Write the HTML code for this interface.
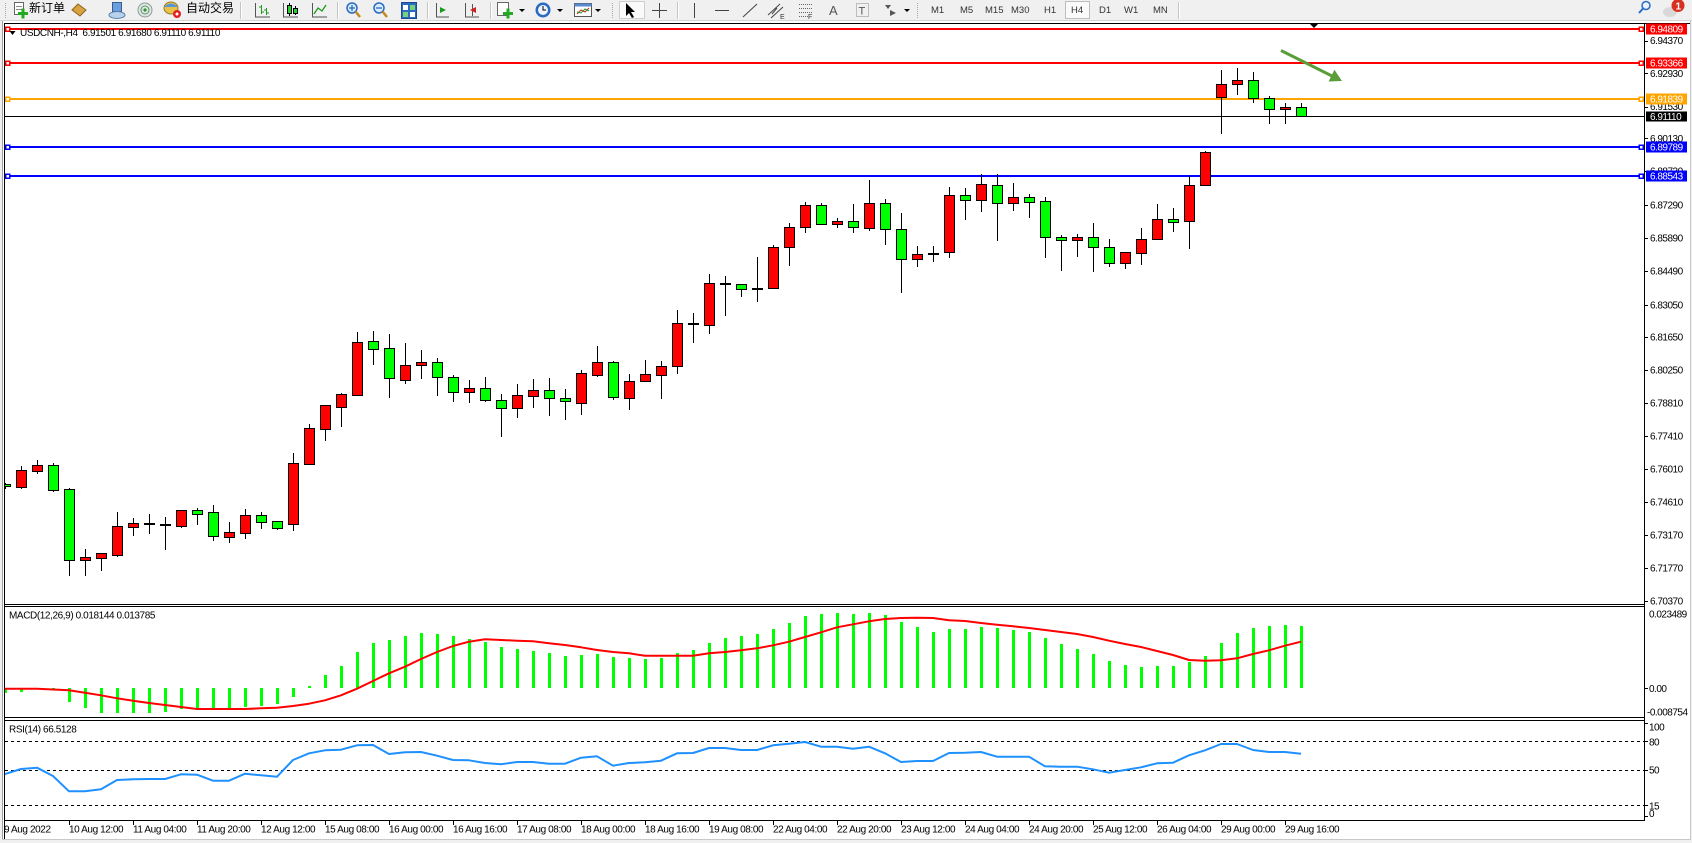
<!DOCTYPE html>
<html><head><meta charset="utf-8">
<style>
html,body{margin:0;padding:0;background:#f0f0f0;}
svg{display:block;}
.t{font-family:"Liberation Sans",sans-serif;font-size:10px;letter-spacing:-0.4px;fill:#000;}
.w{font-family:"Liberation Sans",sans-serif;font-size:10px;letter-spacing:-0.5px;fill:#fff;}
.p{font-family:"Liberation Sans",sans-serif;font-size:10px;letter-spacing:-0.5px;fill:#000;}
.tb{font-family:"Liberation Sans",sans-serif;font-size:9.5px;fill:#333;}
.cj{font-family:"Liberation Sans","Noto Sans CJK SC",sans-serif;font-size:12px;fill:#000;}
</style></head>
<body>
<svg width="1692" height="843" viewBox="0 0 1692 843" xmlns="http://www.w3.org/2000/svg">
<defs>
<clipPath id="cm"><rect x="5" y="25" width="1639" height="579"/></clipPath>
<clipPath id="cd"><rect x="5" y="607" width="1639" height="110"/></clipPath>
<clipPath id="cr"><rect x="5" y="721" width="1639" height="99"/></clipPath>
</defs>
<rect x="0" y="0" width="1692" height="843" fill="#f0f0f0"/>
<!-- toolbar -->
<rect x="0" y="0" width="1692" height="21" fill="#f0f0f0"/>
<line x1="0" y1="20.5" x2="1692" y2="20.5" stroke="#d4d4d4"/>
<g shape-rendering="crispEdges">
<line x1="5.5" y1="3" x2="5.5" y2="18" stroke="#a8a8a8" stroke-dasharray="1,1"/>
<line x1="612.5" y1="3" x2="612.5" y2="18" stroke="#a8a8a8" stroke-dasharray="1,1"/>
<line x1="917.5" y1="3" x2="917.5" y2="18" stroke="#a8a8a8" stroke-dasharray="1,1"/>
<line x1="240.5" y1="2" x2="240.5" y2="19" stroke="#c4c4c4"/><line x1="241.5" y1="2" x2="241.5" y2="19" stroke="#fff"/>
<line x1="337.5" y1="2" x2="337.5" y2="19" stroke="#c4c4c4"/><line x1="338.5" y1="2" x2="338.5" y2="19" stroke="#fff"/>
<line x1="427.5" y1="2" x2="427.5" y2="19" stroke="#c4c4c4"/><line x1="428.5" y1="2" x2="428.5" y2="19" stroke="#fff"/>
<line x1="490.5" y1="2" x2="490.5" y2="19" stroke="#c4c4c4"/><line x1="491.5" y1="2" x2="491.5" y2="19" stroke="#fff"/>
<line x1="677.5" y1="2" x2="677.5" y2="19" stroke="#c4c4c4"/><line x1="678.5" y1="2" x2="678.5" y2="19" stroke="#fff"/>
<line x1="1178.5" y1="2" x2="1178.5" y2="19" stroke="#c4c4c4"/><line x1="1179.5" y1="2" x2="1179.5" y2="19" stroke="#fff"/>
<rect x="619.5" y="1.5" width="25" height="17" fill="#fafafa" stroke="#cfcfcf"/>
<rect x="1065.5" y="1.5" width="24" height="17" fill="#fafafa" stroke="#bdbdbd"/>
</g>
<!-- new order icon -->
<rect x="14.5" y="2.5" width="9" height="12" fill="#fff" stroke="#666"/>
<line x1="16" y1="6.5" x2="22" y2="6.5" stroke="#888"/><line x1="16" y1="9.5" x2="22" y2="9.5" stroke="#888"/>
<rect x="18" y="12" width="10" height="3" fill="#22aa22"/><rect x="21.5" y="8.5" width="3" height="10" fill="#22aa22"/>
<text x="29" y="12" class="cj">新订单</text>
<polygon points="72,10 78,4 86,10 80,16" fill="#d8a440" stroke="#8a6020"/>
<rect x="112.5" y="2.5" width="9" height="9" fill="#6b9edc" stroke="#35608e"/>
<ellipse cx="117" cy="15" rx="8" ry="3.5" fill="#b8d2ee" stroke="#5a7ea8"/>
<circle cx="145" cy="10" r="7" fill="#dfe6e6" stroke="#8a9a9a"/>
<circle cx="145" cy="10" r="4" fill="none" stroke="#5a9a5a"/>
<circle cx="145" cy="10" r="1.6" fill="#3a8a3a"/>
<ellipse cx="171" cy="8" rx="7" ry="6" fill="#e8c24a" stroke="#9a7a20"/>
<path d="M164,7 Q171,0 178,7 Z" fill="#5a96d6"/>
<circle cx="177" cy="14" r="4" fill="#e02020"/><circle cx="177" cy="14" r="1.5" fill="#fff"/>
<text x="186" y="12" class="cj">自动交易</text>
<!-- chart type icons -->
<path d="M255.5,3V17H270" fill="none" stroke="#555"/>
<path d="M261.5,5V14M259,7H261.5M261.5,12H264M266.5,8V15M264,10H266.5M266.5,13H269" fill="none" stroke="#1a9a1a"/>
<path d="M283.5,3V17H298" fill="none" stroke="#555"/>
<path d="M289.5,3V16M295.5,6V15" stroke="#000"/>
<rect x="287.5" y="5.5" width="4" height="8" fill="#2ad02a" stroke="#000"/>
<rect x="293.5" y="8.5" width="4" height="5" fill="#2ad02a" stroke="#000"/>
<path d="M312.5,3V17H327" fill="none" stroke="#555"/>
<polyline points="314,14 318,8 322,11 326,5" fill="none" stroke="#1a9a1a" stroke-width="1.3"/>
<circle cx="352" cy="8" r="5" fill="#d8ecff" stroke="#2a6ac0" stroke-width="1.5"/>
<line x1="355.5" y1="11.5" x2="360" y2="17" stroke="#c08a20" stroke-width="2.5"/>
<path d="M349,8H355M352,5V11" stroke="#2a6ac0" stroke-width="1.3"/>
<circle cx="379" cy="8" r="5" fill="#d8ecff" stroke="#2a6ac0" stroke-width="1.5"/>
<line x1="382.5" y1="11.5" x2="387" y2="17" stroke="#c08a20" stroke-width="2.5"/>
<path d="M376,8H382" stroke="#2a6ac0" stroke-width="1.3"/>
<rect x="401.5" y="2.5" width="15" height="16" fill="#2a6ac0" stroke="#1a4a90"/>
<rect x="403" y="5" width="5" height="5" fill="#fff"/><rect x="410" y="5" width="5" height="5" fill="#7ad07a"/>
<rect x="403" y="12" width="5" height="5" fill="#7ad07a"/><rect x="410" y="12" width="5" height="5" fill="#fff"/>
<path d="M436.5,3V17H449" fill="none" stroke="#555"/>
<polygon points="440,7 446,10 440,13" fill="#1a9a1a"/>
<path d="M465.5,3V17H479" fill="none" stroke="#555"/>
<path d="M472.5,4V16" stroke="#555"/>
<polygon points="470,10 476,7 476,13" fill="#d02020"/>
<rect x="497.5" y="2.5" width="11" height="13" fill="#fff" stroke="#666"/>
<rect x="503" y="12" width="10" height="3" fill="#22aa22"/><rect x="506.5" y="8.5" width="3" height="10" fill="#22aa22"/>
<polygon points="519,9 525,9 522,12" fill="#000"/>
<circle cx="543" cy="10" r="7.5" fill="#2a6ac0"/><circle cx="543" cy="10" r="5" fill="#eef4ff"/>
<path d="M543,6V10H546" fill="none" stroke="#000"/>
<polygon points="557,9 563,9 560,12" fill="#000"/>
<rect x="574.5" y="3.5" width="17" height="13" fill="#fff" stroke="#555"/>
<rect x="574.5" y="3.5" width="17" height="3" fill="#5a8ad0"/>
<polyline points="577,14 581,10 585,12 589,8" fill="none" stroke="#d02020"/>
<polyline points="577,12 581,13 585,9 589,11" fill="none" stroke="#1a9a1a"/>
<polygon points="595,9 601,9 598,12" fill="#000"/>
<!-- drawing tools -->
<polygon points="626,3 626,16 629,13 632,18 634,17 631,12 635,12" fill="#000"/>
<path d="M659.5,3V18M652,10.5H667" stroke="#444"/>
<path d="M694.5,3V18" stroke="#444"/>
<path d="M715,10.5H729" stroke="#444"/>
<path d="M743,17L757,4" stroke="#444"/>
<path d="M768,15L780,4M771,18L783,7M772,14L777,8" stroke="#444"/>
<text x="780" y="19" class="tb" style="font-size:7px">E</text>
<path d="M799,4.5H812M799,8.5H812M799,12.5H812M799,16.5H808" stroke="#666" stroke-dasharray="1,1"/>
<text x="808" y="19" class="tb" style="font-size:7px">F</text>
<text x="829" y="15" class="tb" style="font-size:13px;fill:#555">A</text>
<rect x="856.5" y="3.5" width="12" height="13" fill="none" stroke="#888" stroke-dasharray="1,1"/>
<text x="858.5" y="14.5" class="tb" style="font-size:11px;fill:#555">T</text>
<path d="M885,5L891,5L888,9Z" fill="#555"/><path d="M890,10L896,13L890,16Z" fill="#555"/>
<polygon points="904,9 910,9 907,12" fill="#000"/>
<text x="931" y="13" class="tb">M1</text>
<text x="960" y="13" class="tb">M5</text>
<text x="985" y="13" class="tb">M15</text>
<text x="1011" y="13" class="tb">M30</text>
<text x="1044" y="13" class="tb">H1</text>
<text x="1071" y="13" class="tb">H4</text>
<text x="1099" y="13" class="tb">D1</text>
<text x="1124" y="13" class="tb">W1</text>
<text x="1153" y="13" class="tb">MN</text>
<!-- right top icons -->
<circle cx="1646" cy="5.5" r="4" fill="#e8f2ff" stroke="#2a6ac0" stroke-width="1.5"/>
<line x1="1643" y1="8.5" x2="1639" y2="13" stroke="#2a6ac0" stroke-width="2"/>
<ellipse cx="1670" cy="12" rx="7" ry="5" fill="#d8d8d8"/>
<circle cx="1678" cy="5.5" r="6.5" fill="#d83020"/>
<text x="1675.5" y="9.5" style="font-family:'Liberation Sans',sans-serif;font-size:10px;font-weight:bold;fill:#fff">1</text>

<!-- chart window -->
<rect x="3" y="21" width="1687" height="818" fill="#fff"/>
<g shape-rendering="crispEdges">
<line x1="2.5" y1="21" x2="2.5" y2="840" stroke="#a0a0a0"/>
<line x1="1690.5" y1="21" x2="1690.5" y2="840" stroke="#c8c8c8"/>
<line x1="2" y1="839.5" x2="1691" y2="839.5" stroke="#c8c8c8"/>
<line x1="4" y1="23.5" x2="1690" y2="23.5" stroke="#000"/>
<line x1="4.5" y1="23" x2="4.5" y2="839" stroke="#000"/>
<line x1="1644.5" y1="23" x2="1644.5" y2="821" stroke="#000"/>
<line x1="4" y1="604.5" x2="1645" y2="604.5" stroke="#000"/>
<line x1="4" y1="606.5" x2="1645" y2="606.5" stroke="#000"/>
<line x1="4" y1="717.5" x2="1645" y2="717.5" stroke="#000"/>
<line x1="4" y1="720.5" x2="1645" y2="720.5" stroke="#000"/>
<line x1="4" y1="820.5" x2="1645" y2="820.5" stroke="#000"/>
</g>

<!-- main pane -->
<g clip-path="url(#cm)" shape-rendering="crispEdges">
<line x1="5" y1="116.5" x2="1644" y2="116.5" stroke="#000"/>
<line x1="5" y1="29" x2="1644" y2="29" stroke="#ff0000" stroke-width="2"/>
<line x1="5" y1="63" x2="1644" y2="63" stroke="#ff0000" stroke-width="2"/>
<line x1="5" y1="99" x2="1644" y2="99" stroke="#ffa500" stroke-width="2"/>
<line x1="5" y1="147" x2="1644" y2="147" stroke="#0000ff" stroke-width="2"/>
<line x1="5" y1="176" x2="1644" y2="176" stroke="#0000ff" stroke-width="2"/>
<path fill="none" stroke="#000" d="M5.5 483V489M21.5 466V489M37.5 460V474M53.5 463V492M69.5 488V576M85.5 549V576M101.5 553V571M117.5 512V557M133.5 518V536M149.5 514V534M165.5 517V550M181.5 510V528M197.5 508V525M213.5 505V541M229.5 522V543M245.5 509V539M261.5 512V529M277.5 521V530M293.5 453V531M309.5 424V465M325.5 405V441M341.5 393V427M357.5 332V396M373.5 331V365M389.5 334V398M405.5 343V384M421.5 350V379M437.5 358V396M453.5 375V402M469.5 380V403M485.5 377V402M501.5 394V437M517.5 384V418M533.5 379V408M549.5 378V416M565.5 389V420M581.5 370V415M597.5 346V377M613.5 361V400M629.5 374V410M645.5 360V382M661.5 361V399M677.5 310V374M693.5 313V343M709.5 274V334M725.5 276V316M741.5 284V297M757.5 257V302M773.5 245V289M789.5 223V266M805.5 202V233M821.5 203V225M837.5 218V228M853.5 204V233M869.5 180V231M885.5 199V245M901.5 213V293M917.5 246V267M933.5 246V262M949.5 187V258M965.5 188V220M981.5 174V212M997.5 174V241M1013.5 183V211M1029.5 194V218M1045.5 197V258M1061.5 235V271M1077.5 234V257M1093.5 223V272M1109.5 239V267M1125.5 252V269M1141.5 228V265M1157.5 204V240M1173.5 208V232M1189.5 176V249M1205.5 151V186M1221.5 70V134M1237.5 68V95M1253.5 72V103M1269.5 96V124M1285.5 103V124M1301.5 103V117"/>
<path fill="#ff0000" stroke="#000" d="M16.5,470.5h10v17h-10zM32.5,465.5h10v6h-10zM80.5,557.5h10v3h-10zM96.5,553.5h10v5h-10zM112.5,526.5h10v29h-10zM128.5,523.5h10v4h-10zM176.5,510.5h10v16h-10zM224.5,532.5h10v5h-10zM240.5,515.5h10v18h-10zM288.5,463.5h10v61h-10zM304.5,428.5h10v36h-10zM320.5,405.5h10v24h-10zM336.5,394.5h10v13h-10zM352.5,342.5h10v53h-10zM400.5,365.5h10v15h-10zM416.5,362.5h10v3h-10zM464.5,388.5h10v4h-10zM512.5,395.5h10v13h-10zM528.5,390.5h10v6h-10zM576.5,373.5h10v30h-10zM592.5,362.5h10v13h-10zM624.5,381.5h10v17h-10zM640.5,374.5h10v7h-10zM656.5,366.5h10v9h-10zM672.5,323.5h10v43h-10zM704.5,283.5h10v42h-10zM768.5,247.5h10v41h-10zM784.5,227.5h10v20h-10zM800.5,205.5h10v22h-10zM832.5,221.5h10v3h-10zM864.5,203.5h10v25h-10zM912.5,254.5h10v5h-10zM944.5,195.5h10v57h-10zM976.5,184.5h10v16h-10zM1008.5,197.5h10v6h-10zM1072.5,237.5h10v3h-10zM1120.5,252.5h10v11h-10zM1136.5,239.5h10v14h-10zM1152.5,219.5h10v20h-10zM1184.5,185.5h10v36h-10zM1200.5,152.5h10v33h-10zM1216.5,84.5h10v13h-10zM1232.5,80.5h10v4h-10zM1280.5,107.5h10v2h-10z"/>
<path fill="#00ff00" stroke="#000" d="M0.5,484.5h10v2h-10zM48.5,465.5h10v25h-10zM64.5,489.5h10v71h-10zM192.5,510.5h10v4h-10zM208.5,512.5h10v24h-10zM256.5,515.5h10v7h-10zM272.5,521.5h10v7h-10zM368.5,341.5h10v8h-10zM384.5,348.5h10v30h-10zM432.5,362.5h10v15h-10zM448.5,377.5h10v15h-10zM480.5,388.5h10v12h-10zM496.5,400.5h10v8h-10zM544.5,390.5h10v8h-10zM560.5,398.5h10v3h-10zM608.5,362.5h10v35h-10zM736.5,284.5h10v5h-10zM816.5,205.5h10v19h-10zM848.5,221.5h10v6h-10zM880.5,203.5h10v26h-10zM896.5,229.5h10v30h-10zM960.5,195.5h10v5h-10zM992.5,185.5h10v18h-10zM1024.5,197.5h10v5h-10zM1040.5,201.5h10v36h-10zM1056.5,237.5h10v3h-10zM1088.5,237.5h10v10h-10zM1104.5,247.5h10v16h-10zM1168.5,219.5h10v3h-10zM1248.5,80.5h10v18h-10zM1264.5,98.5h10v11h-10zM1296.5,107.5h10v9h-10z"/>
<path fill="#000" stroke="#000" d="M144.5,523.5h10v1h-10zM160.5,524.5h10v1h-10zM688.5,323.5h10v1h-10zM720.5,283.5h10v1h-10zM752.5,288.5h10v1h-10zM928.5,253.5h10v1h-10z"/>
<!-- markers -->
<g fill="#fff" stroke-width="1.5">
<rect x="5.5" y="27" width="4" height="4" stroke="#ff0000"/>
<rect x="5.5" y="61" width="4" height="4" stroke="#ff0000"/>
<rect x="5.5" y="97" width="4" height="4" stroke="#ffa500"/>
<rect x="5.5" y="145" width="4" height="4" stroke="#0000ff"/>
<rect x="5.5" y="174" width="4" height="4" stroke="#0000ff"/>
<rect x="1639" y="27" width="4" height="4" stroke="#ff0000"/>
<rect x="1639" y="61" width="4" height="4" stroke="#ff0000"/>
<rect x="1639" y="97" width="4" height="4" stroke="#ffa500"/>
<rect x="1639" y="145" width="4" height="4" stroke="#0000ff"/>
<rect x="1639" y="174" width="4" height="4" stroke="#0000ff"/>
</g>
</g>
<!-- title -->
<polygon points="9.5,31 15.5,31 12.5,35" fill="#000"/>
<text x="20" y="36" class="t" xml:space="preserve">USDCNH-,H4  6.91501 6.91680 6.91110 6.91110</text>
<!-- chart shift marker -->
<polygon points="1310,24 1318,24 1314,28" fill="#000"/>
<!-- green arrow -->
<line x1="1281" y1="50.5" x2="1333" y2="76.5" stroke="#5a9e3a" stroke-width="3"/>
<polygon points="1342,81 1328.6,81.5 1334.4,69.8" fill="#5a9e3a"/>

<!-- price axis -->
<g shape-rendering="crispEdges" stroke="#000">
<path d="M1645 41.5h3M1645 73.5h3M1645 107.5h3M1645 138.5h3M1645 171.5h3M1645 205.5h3M1645 238.5h3M1645 271.5h3M1645 305.5h3M1645 337.5h3M1645 370.5h3M1645 403.5h3M1645 436.5h3M1645 469.5h3M1645 502.5h3M1645 535.5h3M1645 568.5h3M1645 601.5h3"/>
</g>
<text x="1650" y="44.2" class="p">6.94370</text>
<text x="1650" y="76.8" class="p">6.92930</text>
<text x="1650" y="110.2" class="p">6.91530</text>
<text x="1650" y="141.8" class="p">6.90130</text>
<text x="1650" y="174.5" class="p">6.88730</text>
<text x="1650" y="208.5" class="p">6.87290</text>
<text x="1650" y="241.5" class="p">6.85890</text>
<text x="1650" y="274.5" class="p">6.84490</text>
<text x="1650" y="308.5" class="p">6.83050</text>
<text x="1650" y="340.5" class="p">6.81650</text>
<text x="1650" y="373.5" class="p">6.80250</text>
<text x="1650" y="406.5" class="p">6.78810</text>
<text x="1650" y="439.5" class="p">6.77410</text>
<text x="1650" y="472.5" class="p">6.76010</text>
<text x="1650" y="505.5" class="p">6.74610</text>
<text x="1650" y="538.5" class="p">6.73170</text>
<text x="1650" y="571.5" class="p">6.71770</text>
<text x="1650" y="604.5" class="p">6.70370</text>
<g shape-rendering="crispEdges">
<rect x="1646" y="23.5" width="41" height="11" fill="#ff0000"/>
<rect x="1646" y="57.5" width="41" height="11" fill="#ff0000"/>
<rect x="1646" y="93.5" width="41" height="11" fill="#ffa500"/>
<rect x="1646" y="111.5" width="41" height="10" fill="#000"/>
<rect x="1646" y="141.5" width="41" height="11" fill="#0000ff"/>
<rect x="1646" y="170.5" width="41" height="11" fill="#0000ff"/>
</g>
<text x="1650" y="32.5" class="w">6.94809</text>
<text x="1650" y="66.5" class="w">6.93366</text>
<text x="1650" y="102.5" class="w">6.91839</text>
<text x="1650" y="120" class="w">6.91110</text>
<text x="1650" y="150.5" class="w">6.89789</text>
<text x="1650" y="179.5" class="w">6.88543</text>

<!-- MACD pane -->
<g clip-path="url(#cd)">
<path fill="#00ff00" shape-rendering="crispEdges" d="M4,688h3V693h-3zM20,688h3V692h-3zM36,688h3V689h-3zM52,688h3V690h-3zM68,688h3V702h-3zM84,688h3V708h-3zM100,688h3V713h-3zM116,688h3V713h-3zM132,688h3V713h-3zM148,688h3V713h-3zM164,688h3V712h-3zM180,688h3V709h-3zM196,688h3V709h-3zM212,688h3V709h-3zM228,688h3V709h-3zM244,688h3V707h-3zM260,688h3V706h-3zM276,688h3V704h-3zM292,688h3V697h-3zM308,686h3V688h-3zM324,675h3V688h-3zM340,666h3V688h-3zM356,652h3V688h-3zM372,643h3V688h-3zM388,640h3V688h-3zM404,636h3V688h-3zM420,633h3V688h-3zM436,634h3V688h-3zM452,636h3V688h-3zM468,639h3V688h-3zM484,642h3V688h-3zM500,647h3V688h-3zM516,649h3V688h-3zM532,651h3V688h-3zM548,653h3V688h-3zM564,656h3V688h-3zM580,655h3V688h-3zM596,654h3V688h-3zM612,657h3V688h-3zM628,658h3V688h-3zM644,659h3V688h-3zM660,658h3V688h-3zM676,653h3V688h-3zM692,650h3V688h-3zM708,643h3V688h-3zM724,638h3V688h-3zM740,636h3V688h-3zM756,634h3V688h-3zM772,629h3V688h-3zM788,623h3V688h-3zM804,616h3V688h-3zM820,614h3V688h-3zM836,613h3V688h-3zM852,614h3V688h-3zM868,613h3V688h-3zM884,615h3V688h-3zM900,622h3V688h-3zM916,627h3V688h-3zM932,632h3V688h-3zM948,629h3V688h-3zM964,629h3V688h-3zM980,627h3V688h-3zM996,628h3V688h-3zM1012,630h3V688h-3zM1028,632h3V688h-3zM1044,638h3V688h-3zM1060,644h3V688h-3zM1076,649h3V688h-3zM1092,654h3V688h-3zM1108,661h3V688h-3zM1124,665h3V688h-3zM1140,667h3V688h-3zM1156,666h3V688h-3zM1172,666h3V688h-3zM1188,662h3V688h-3zM1204,656h3V688h-3zM1220,643h3V688h-3zM1236,633h3V688h-3zM1252,628h3V688h-3zM1268,626h3V688h-3zM1284,625h3V688h-3zM1300,626h3V688h-3z"/>
<polyline fill="none" stroke="#ff0000" stroke-width="2" stroke-linejoin="round" points="4,688.7 21,688.7 37,688.7 53,689.5 69,690.3 85,692.7 101,695.3 117,698.3 133,700.7 149,703 165,705 181,707 197,709 213,709 229,709 245,709 261,708.3 277,707.7 293,706 309,703.7 325,700.3 341,695.3 357,688.7 373,681 389,673.3 405,666.7 421,659 437,652 453,646 469,641.7 485,639.3 501,640 517,640.7 533,641.3 549,643.3 565,645 581,647.3 597,650 613,652 629,653.3 645,655.7 661,655.7 677,655.7 693,655.7 709,653.3 725,652 741,650.3 757,648.3 773,645.3 789,641.7 805,637 821,632.3 837,627.3 853,624.3 869,621.3 885,619 901,618 917,617.7 933,618 949,620.3 965,621 981,623 997,624.7 1013,626.3 1029,628 1045,630 1061,632 1077,634 1093,637 1109,640.7 1125,644 1141,647 1157,651 1173,655 1189,660 1205,660.7 1221,660.3 1237,658.3 1253,654 1269,650.3 1285,645.7 1301,641.7"/>
</g>
<text x="9" y="618.5" class="t">MACD(12,26,9) 0.018144 0.013785</text>
<path d="M1645 688.5h3" stroke="#000" shape-rendering="crispEdges"/>
<text x="1649" y="617.7" class="p">0.023489</text>
<text x="1649" y="692" class="p">0.00</text>
<text x="1647" y="715.5" class="p">-0.008754</text>

<!-- RSI pane -->
<g shape-rendering="crispEdges" stroke="#000" stroke-dasharray="3,3">
<line x1="5" y1="741.5" x2="1644" y2="741.5"/>
<line x1="5" y1="770.5" x2="1644" y2="770.5"/>
<line x1="5" y1="805.5" x2="1644" y2="805.5"/>
</g>
<g clip-path="url(#cr)">
<polyline fill="none" stroke="#1e90ff" stroke-width="2" stroke-linejoin="round" points="4,775.3 5,774 21,769 37,767.7 53,776 69,791.3 85,791.3 101,789.3 117,780 133,779.3 149,779 165,779 181,774.3 197,774.7 213,780.7 229,780.7 245,773.7 261,775.3 277,776.7 293,760 309,753.3 325,750.3 341,749.7 357,745.3 373,745 389,754 405,752.3 421,752 437,755.7 453,760 469,760.3 485,763 501,764.3 517,762 533,762 549,763.7 565,763.7 581,757.7 597,756.3 613,765.7 629,763 645,762.3 661,760.7 677,753.3 693,753 709,748 725,748 741,750 757,750 773,745.3 789,743.7 805,742 821,746.7 837,746.7 853,748.7 869,746.7 885,753.3 901,762 917,761 933,761 949,753 965,752.7 981,752 997,756.7 1013,756.7 1029,756.7 1045,766.3 1061,766.7 1077,766.7 1093,769.3 1109,772.7 1125,770 1141,767.3 1157,763.3 1173,762.7 1189,755.3 1205,750.3 1221,744 1237,744 1253,750 1269,752 1285,752 1301,753.7"/>
</g>
<text x="9" y="732.5" class="t">RSI(14) 66.5128</text>
<path d="M1645 723.5h3M1645 741.5h3M1645 770.5h3M1645 805.5h3M1645 816.5h3" stroke="#000" shape-rendering="crispEdges"/>
<text x="1649" y="730.5" class="p">100</text>
<text x="1649" y="745.5" class="p">80</text>
<text x="1649" y="773.5" class="p">50</text>
<text x="1649" y="809.5" class="p">15</text>
<text x="1649" y="817" class="p">0</text>

<!-- time axis -->
<path stroke="#000" shape-rendering="crispEdges" d="M69.5 821v4M133.5 821v4M197.5 821v4M261.5 821v4M325.5 821v4M389.5 821v4M453.5 821v4M517.5 821v4M581.5 821v4M645.5 821v4M709.5 821v4M773.5 821v4M837.5 821v4M901.5 821v4M965.5 821v4M1029.5 821v4M1093.5 821v4M1157.5 821v4M1221.5 821v4M1285.5 821v4"/>
<text x="4" y="832.5" class="t">9 Aug 2022</text>
<text x="69" y="832.5" class="t">10 Aug 12:00</text>
<text x="133" y="832.5" class="t">11 Aug 04:00</text>
<text x="197" y="832.5" class="t">11 Aug 20:00</text>
<text x="261" y="832.5" class="t">12 Aug 12:00</text>
<text x="325" y="832.5" class="t">15 Aug 08:00</text>
<text x="389" y="832.5" class="t">16 Aug 00:00</text>
<text x="453" y="832.5" class="t">16 Aug 16:00</text>
<text x="517" y="832.5" class="t">17 Aug 08:00</text>
<text x="581" y="832.5" class="t">18 Aug 00:00</text>
<text x="645" y="832.5" class="t">18 Aug 16:00</text>
<text x="709" y="832.5" class="t">19 Aug 08:00</text>
<text x="773" y="832.5" class="t">22 Aug 04:00</text>
<text x="837" y="832.5" class="t">22 Aug 20:00</text>
<text x="901" y="832.5" class="t">23 Aug 12:00</text>
<text x="965" y="832.5" class="t">24 Aug 04:00</text>
<text x="1029" y="832.5" class="t">24 Aug 20:00</text>
<text x="1093" y="832.5" class="t">25 Aug 12:00</text>
<text x="1157" y="832.5" class="t">26 Aug 04:00</text>
<text x="1221" y="832.5" class="t">29 Aug 00:00</text>
<text x="1285" y="832.5" class="t">29 Aug 16:00</text>
</svg>
</body></html>
